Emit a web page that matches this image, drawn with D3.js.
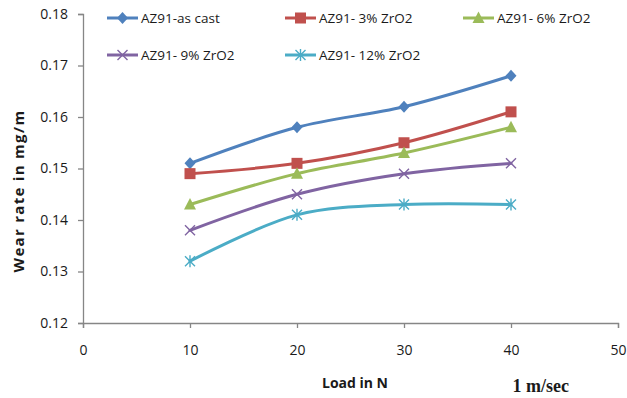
<!DOCTYPE html>
<html>
<head>
<meta charset="utf-8">
<script src="https://cdn.jsdelivr.net/npm/d3@7"></script>
<style>
  html, body { margin: 0; padding: 0; background: #fff; }
  svg { display: block; }
  text { font-family: "Open Sans", Lato, sans-serif; fill: #1a1a1a; }
</style>
</head>
<body>
<svg id="chart" width="627" height="398"></svg>
<script>
// Load (N) on the x axis
const loads = [10, 20, 30, 40];

// Wear rate (mg/m) for each composition
const asCast   = [0.151, 0.158, 0.162, 0.168];
const zro2_3   = [0.149, 0.151, 0.155, 0.161];
const zro2_6   = [0.143, 0.149, 0.153, 0.158];
const zro2_9   = [0.138, 0.145, 0.149, 0.151];
const zro2_12  = [0.132, 0.141, 0.143, 0.143];

const seriesNames = ["AZ91-as cast", "AZ91- 3% ZrO2", "AZ91- 6% ZrO2", "AZ91- 9% ZrO2", "AZ91- 12% ZrO2"];
const seriesValues = [asCast, zro2_3, zro2_6, zro2_9, zro2_12];
const seriesColors = ["#4F81BD", "#C0504D", "#9BBB59", "#8064A2", "#4BACC6"];
const seriesMarkers = ["diamond", "square", "triangle", "cross", "asterisk"];

const xTicks = [0, 10, 20, 30, 40, 50];
const yTicks = [0.12, 0.13, 0.14, 0.15, 0.16, 0.17, 0.18];

const svg = d3.select("#chart");
const W = 627, H = 398;
const plot = { left: 83, right: 618, top: 14, bottom: 323 };

const x = d3.scaleLinear().domain([0, 50]).range([plot.left, plot.right]);
const y = d3.scaleLinear().domain([0.12, 0.18]).range([plot.bottom, plot.top]);

// Axes
const axisColor = "#868686";
const yAxis = svg.append("g")
  .attr("transform", `translate(${plot.left},0)`)
  .call(d3.axisLeft(y).tickValues(yTicks).tickFormat(d3.format(".2f")).tickSize(5).tickPadding(10));
const xAxis = svg.append("g")
  .attr("transform", `translate(0,${plot.bottom})`)
  .call(d3.axisBottom(x).tickValues(xTicks).tickFormat(d3.format("d")).tickSize(5).tickPadding(17));

[yAxis, xAxis].forEach(g => {
  g.select(".domain").attr("stroke", axisColor).attr("stroke-width", 1.3);
  g.selectAll(".tick line").attr("stroke", axisColor).attr("stroke-width", 1.3);
  g.selectAll(".tick text")
    .style("font-family", "'Open Sans', Lato, sans-serif")
    .style("font-size", "14px")
    .attr("fill", "#1a1a1a");
});

// Axis titles
svg.append("text")
  .attr("transform", `translate(24,${191}) rotate(-90)`)
  .attr("text-anchor", "middle")
  .style("font-size", "15px").style("font-weight", "bold")
  .style("letter-spacing", "1.3px")
  .text("Wear rate in mg/m");

svg.append("text")
  .attr("x", 355).attr("y", 388)
  .attr("text-anchor", "middle")
  .style("font-size", "14px").style("font-weight", "bold")
  .text("Load in N");

svg.append("text")
  .attr("x", 569).attr("y", 392)
  .attr("text-anchor", "end")
  .style("font-family", "'Liberation Serif', 'DejaVu Serif', serif")
  .style("font-size", "18px").style("font-weight", "bold")
  .text("1 m/sec");

// Marker drawing
function drawMarker(g, type, cx, cy, color) {
  const s = 5;
  if (type === "diamond") {
    g.append("path").attr("d", `M${cx},${cy - 6}L${cx + 5.5},${cy}L${cx},${cy + 6}L${cx - 5.5},${cy}Z`).attr("fill", color);
  } else if (type === "square") {
    g.append("rect").attr("x", cx - 5.5).attr("y", cy - 5.5).attr("width", 11).attr("height", 11).attr("fill", color);
  } else if (type === "triangle") {
    g.append("path").attr("d", `M${cx},${cy - 6.5}L${cx + 6},${cy + 5}L${cx - 6},${cy + 5}Z`).attr("fill", color);
  } else if (type === "cross") {
    g.append("path").attr("d", `M${cx - s},${cy - s}L${cx + s},${cy + s}M${cx - s},${cy + s}L${cx + s},${cy - s}`)
      .attr("stroke", color).attr("stroke-width", 1.4).attr("fill", "none");
  } else if (type === "asterisk") {
    g.append("path").attr("d", `M${cx - s},${cy - s}L${cx + s},${cy + s}M${cx - s},${cy + s}L${cx + s},${cy - s}M${cx},${cy - 6}L${cx},${cy + 6}`)
      .attr("stroke", color).attr("stroke-width", 1.4).attr("fill", "none");
  }
}

// Series lines (smoothed) and markers
const line = d3.line()
  .x((d, i) => x(loads[i]))
  .y(d => y(d))
  .curve(d3.curveCatmullRom.alpha(0.5));

seriesValues.forEach((vals, k) => {
  const g = svg.append("g");
  g.append("path")
    .attr("d", line(vals))
    .attr("fill", "none")
    .attr("stroke", seriesColors[k])
    .attr("stroke-width", 3)
    .attr("stroke-linejoin", "round")
    .attr("stroke-linecap", "round");
  vals.forEach((v, i) => drawMarker(g, seriesMarkers[k], x(loads[i]), y(v), seriesColors[k]));
});

// Legend
const legendPos = [[107, 18], [285, 18], [463, 18], [107, 55], [285, 55]];
seriesNames.forEach((name, k) => {
  const [lx, ly] = legendPos[k];
  const g = svg.append("g");
  g.append("line").attr("x1", lx).attr("x2", lx + 31).attr("y1", ly).attr("y2", ly)
    .attr("stroke", seriesColors[k]).attr("stroke-width", 3);
  drawMarker(g, seriesMarkers[k], lx + 15.5, ly, seriesColors[k]);
  g.append("text").attr("x", lx + 34).attr("y", ly + 5)
    .style("font-size", "13.5px")
    .text(name);
});
</script>
</body>
</html>
